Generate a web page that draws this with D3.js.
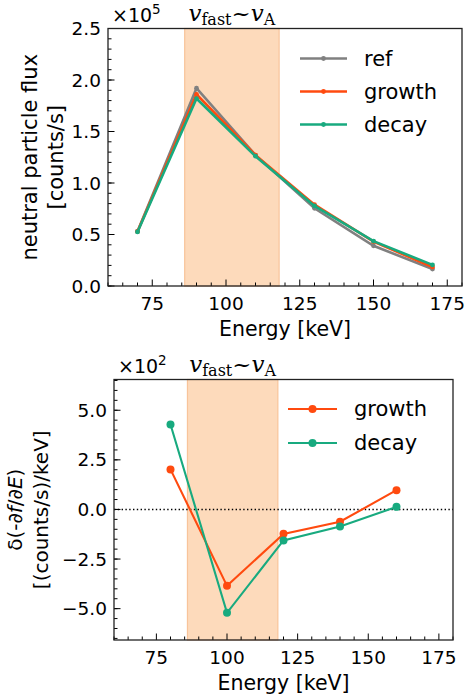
<!DOCTYPE html>
<html>
<head>
<meta charset="utf-8">
<script src="https://cdn.jsdelivr.net/npm/d3@7"></script>
<style>
  body { margin: 0; background: #fff; }
  svg { display: block; font-family: "DejaVu Sans", sans-serif; }
</style>
</head>
<body>
<svg id="chart" width="475" height="698"></svg>
<script>
// top panel: flux vs energy (units of 1e5 counts/s)
var fluxEnergy = [70, 90, 110, 130, 150, 170];
var fluxRef    = [0.53, 1.92, 1.27, 0.755, 0.39, 0.165];
var fluxGrowth = [0.53, 1.86, 1.27, 0.79, 0.43, 0.185];
var fluxDecay  = [0.525, 1.82, 1.26, 0.777, 0.435, 0.205];

// bottom panel: delta of -df/dE (units of 1e2)
var derivEnergy = [80, 100, 120, 140, 160];
var derivGrowth = [2.02, -3.85, -1.23, -0.62, 0.97];
var derivDecay  = [4.28, -5.21, -1.56, -0.86, 0.13];

var xTicks = [75, 100, 125, 150, 175];
var fluxTicks = [0, 0.5, 1.0, 1.5, 2.0, 2.5];
var derivTicks = [-5, -2.5, 0, 2.5, 5];
var band = [86, 118];

var colors = { ref: "#808080", growth: "#ff4a0f", decay: "#18aa7f" };

var svg = d3.select("#chart");

const fmt = (v) => d3.format(".1f")(v).replace("-", "\u2212");

// draws one panel
const drawPanel = (p) => {
  var g = svg.append("g");
  var x = d3.scaleLinear().domain([60, 180]).range([p.left, p.right]);
  var y = d3.scaleLinear().domain(p.yDomain).range([p.bottom, p.top]);

  //shaded band
  g.append("rect")
    .attr("x", x(band[0]))
    .attr("y", p.top)
    .attr("width", x(band[1]) - x(band[0]))
    .attr("height", p.bottom - p.top)
    .attr("fill", "#fddabb")
    .attr("stroke", "#f8c49a")
    .attr("stroke-width", 1.2);

  if (p.zeroLine) {
    g.append("line")
      .attr("x1", p.left).attr("x2", p.right)
      .attr("y1", y(0)).attr("y2", y(0))
      .attr("stroke", "#000")
      .attr("stroke-width", 1.4)
      .attr("stroke-dasharray", "1.4,2.4");
  }

  //series
  p.series.forEach((s) => {
    var pts = p.energy.map((e, i) => [e, s.values[i]]);
    g.append("path")
      .datum(pts)
      .attr("fill", "none")
      .attr("stroke", colors[s.name])
      .attr("stroke-width", p.lineWidth)
      .attr("stroke-linejoin", "miter")
      .attr("d", d3.line().x((d) => x(d[0])).y((d) => y(d[1])));
    g.selectAll(null)
      .data(pts)
      .join("circle")
      .attr("cx", (d) => x(d[0]))
      .attr("cy", (d) => y(d[1]))
      .attr("r", p.markerR)
      .attr("fill", colors[s.name]);
  });

  //minor ticks
  d3.range(60, 181, 5).forEach((v) => {
    var major = xTicks.includes(v);
    g.append("line")
      .attr("x1", x(v)).attr("x2", x(v))
      .attr("y1", p.bottom).attr("y2", p.bottom - (major ? 6.5 : 3.5))
      .attr("stroke", "#000").attr("stroke-width", 1);
  });
  p.yMinor.forEach((v) => {
    g.append("line")
      .attr("x1", p.left).attr("x2", p.left + 3.5)
      .attr("y1", y(v)).attr("y2", y(v))
      .attr("stroke", "#000").attr("stroke-width", 1);
  });
  p.yTicks.forEach((v) => {
    g.append("line")
      .attr("x1", p.left).attr("x2", p.left + 6.5)
      .attr("y1", y(v)).attr("y2", y(v))
      .attr("stroke", "#000").attr("stroke-width", 1);
    g.append("text")
      .attr("x", p.left - 7)
      .attr("y", y(v) + 6.5)
      .attr("text-anchor", "end")
      .attr("font-size", 18.5)
      .attr("fill", "#000")
      .text(fmt(v));
  });
  xTicks.forEach((v) => {
    g.append("text")
      .attr("x", x(v))
      .attr("y", p.bottom + 24)
      .attr("text-anchor", "middle")
      .attr("font-size", 18.5)
      .text(v);
  });

  //frame
  g.append("rect")
    .attr("x", p.left).attr("y", p.top)
    .attr("width", p.right - p.left).attr("height", p.bottom - p.top)
    .attr("fill", "none").attr("stroke", "#222").attr("stroke-width", 1.3);

  //x label
  g.append("text")
    .attr("x", (p.left + p.right) / 2)
    .attr("y", p.bottom + 50)
    .attr("text-anchor", "middle")
    .attr("font-size", 20.5)
    .text("Energy [keV]");

  //y label (two lines)
  var cy = (p.top + p.bottom) / 2;
  p.yLabel.forEach((line, i) => {
    var t = g.append("text")
      .attr("transform", "translate(" + (p.yLabelX + i * 25.5) + "," + cy + ") rotate(-90)")
      .attr("text-anchor", "middle")
      .attr("dominant-baseline", "central")
      .attr("font-size", p.yLabelSize);
    line.forEach((part) => {
      t.append("tspan")
        .attr("font-style", part.italic ? "italic" : null)
        .text(part.t);
    });
  });

  //multiplier
  var m = g.append("text")
    .attr("x", p.left + 4)
    .attr("y", p.top - 7)
    .attr("font-size", 19);
  m.append("tspan").text("\u00d710");
  m.append("tspan").attr("font-size", 13.5).attr("dy", -8).text(p.exp);

  //title
  var tt = g.append("text")
    .attr("x", (x(band[0]) + x(band[1])) / 2)
    .attr("y", p.top - 8)
    .attr("text-anchor", "middle")
    .attr("font-family", "DejaVu Serif, serif")
    .attr("font-size", 23);
  tt.append("tspan").attr("font-style", "italic").text("v");
  tt.append("tspan").attr("font-size", 16).attr("dy", 4).text("fast");
  tt.append("tspan").attr("dy", -4).text("~");
  tt.append("tspan").attr("font-style", "italic").text("v");
  tt.append("tspan").attr("font-size", 16).attr("dy", 4).text("A");

  //legend
  p.series.forEach((s, i) => {
    var ly = p.legendY + i * p.legendGap;
    g.append("line")
      .attr("x1", p.legendX).attr("x2", p.legendX + p.legendLen)
      .attr("y1", ly).attr("y2", ly)
      .attr("stroke", colors[s.name]).attr("stroke-width", p.lineWidth);
    g.append("circle")
      .attr("cx", p.legendX + p.legendLen / 2).attr("cy", ly)
      .attr("r", p.markerR).attr("fill", colors[s.name]);
    g.append("text")
      .attr("x", p.legendX + p.legendLen + 17)
      .attr("y", ly)
      .attr("dominant-baseline", "central")
      .attr("font-size", 21)
      .text(s.name);
  });
};

drawPanel({
  left: 108, right: 462, top: 28.5, bottom: 286,
  yDomain: [0, 2.5],
  yTicks: fluxTicks,
  yMinor: d3.range(0, 26).map((v) => v / 10),
  energy: fluxEnergy,
  series: [
    { name: "ref", values: fluxRef },
    { name: "growth", values: fluxGrowth },
    { name: "decay", values: fluxDecay },
  ],
  lineWidth: 2.6, markerR: 2.4,
  yLabel: [[{ t: "neutral particle flux" }], [{ t: "[counts/s]" }]],
  yLabelX: 30, yLabelSize: 21,
  exp: "5",
  legendX: 300, legendLen: 47, legendY: 58.5, legendGap: 33,
});

drawPanel({
  left: 114, right: 453, top: 379.5, bottom: 640,
  yDomain: [-6.58, 6.55],
  yTicks: derivTicks,
  yMinor: d3.range(-13, 14).map((v) => v / 2),
  energy: derivEnergy,
  zeroLine: true,
  series: [
    { name: "growth", values: derivGrowth },
    { name: "decay", values: derivDecay },
  ],
  lineWidth: 2.1, markerR: 4,
  yLabel: [
    [{ t: "\u03b4(-\u2202" }, { t: "f", italic: true }, { t: "/\u2202" }, { t: "E", italic: true }, { t: ")" }],
    [{ t: "[(counts/s)/keV]" }],
  ],
  yLabelX: 15, yLabelSize: 20,
  exp: "2",
  legendX: 288, legendLen: 49, legendY: 409, legendGap: 34,
});
</script>
</body>
</html>
